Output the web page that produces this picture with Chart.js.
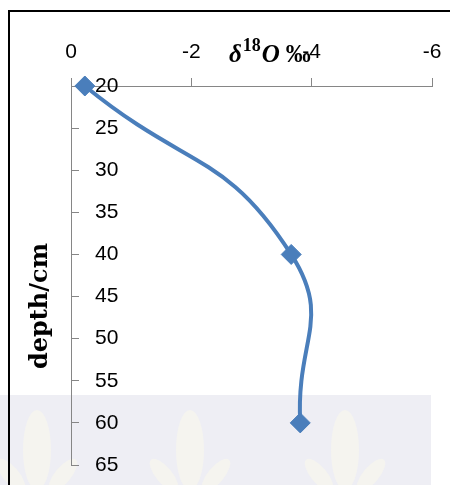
<!DOCTYPE html>
<html>
<head>
<meta charset="utf-8">
<script src="https://cdn.jsdelivr.net/npm/chart.js@4/dist/chart.umd.min.js"></script>
<style>
  html, body { margin: 0; padding: 0; background: #fff; }
  #wrap { width: 450px; height: 485px; }
</style>
</head>
<body>
<div id="wrap"><canvas id="c" width="450" height="485"></canvas></div>
<script>
// depth (cm) and measured delta 18O (per mil)
const depths = [20, 40, 60];
const delta18O = [-0.23, -3.66, -3.81];

// axis ranges / ticks
const xMin = -6, xMax = 0, xStep = 2;
const yMin = 20, yMax = 65, yStep = 5;

const blue = '#4A7EBB';
const axisGray = '#868686';

// faint watermark band at the bottom of the picture
const watermark = {
  id: 'watermark',
  beforeDraw(chart) {
    const ctx = chart.ctx;
    ctx.save();
    ctx.fillStyle = '#EEEEF4';
    ctx.fillRect(0, 395, 431, 90);
    ctx.fillStyle = '#F5F4EF';
    [37, 190, 345].forEach(cx => {
      ctx.beginPath();
      ctx.ellipse(cx, 450, 14, 40, 0, 0, Math.PI * 2);
      ctx.fill();
      ctx.beginPath();
      ctx.ellipse(cx - 26, 475, 8, 20, -0.7, 0, Math.PI * 2);
      ctx.fill();
      ctx.beginPath();
      ctx.ellipse(cx + 26, 475, 8, 20, 0.7, 0, Math.PI * 2);
      ctx.fill();
    });
    ctx.restore();
  }
};

// outer frame + axis titles
const decorations = {
  id: 'decorations',
  afterDraw(chart) {
    const ctx = chart.ctx;
    ctx.save();
    ctx.strokeStyle = '#000';
    ctx.lineWidth = 2;
    ctx.beginPath();
    ctx.moveTo(9, 485);
    ctx.lineTo(9, 11);
    ctx.lineTo(450, 11);
    ctx.stroke();

    // x title: delta 18O per mil
    ctx.fillStyle = '#000';
    ctx.textBaseline = 'alphabetic';
    ctx.textAlign = 'left';
    let x = 229;
    const base = 62;
    ctx.font = 'italic bold 25px "Liberation Serif"';
    ctx.fillText('δ', x, base);
    x += ctx.measureText('δ').width + 1;
    ctx.font = 'bold 18px "Liberation Serif"';
    ctx.fillText('18', x, base - 11);
    x += ctx.measureText('18').width + 1;
    ctx.font = 'italic bold 25px "Liberation Serif"';
    ctx.fillText('O', x, base);
    x += ctx.measureText('O').width + 6;
    ctx.font = 'bold 25px "Liberation Serif"';
    ctx.fillText('‰', x, base);

    // y title
    ctx.translate(41, 306);
    ctx.rotate(-Math.PI / 2);
    ctx.textAlign = 'center';
    ctx.textBaseline = 'middle';
    ctx.font = 'bold 24px "DejaVu Serif"';
    ctx.fillText('depth/cm', 0, 0);
    ctx.restore();
  }
};

const points = depths.map((d, i) => ({ x: delta18O[i], y: d }));

new Chart(document.getElementById('c').getContext('2d'), {
  type: 'line',
  data: {
    datasets: [{
      data: points,
      borderColor: blue,
      borderWidth: 4,
      tension: 0.5,
      clip: false,
      pointStyle: 'rectRot',
      pointRadius: 10,
      pointBackgroundColor: blue,
      pointBorderColor: blue,
      pointBorderWidth: 1,
      fill: false
    }]
  },
  options: {
    responsive: false,
    animation: false,
    layout: { padding: { left: 0, right: 18, top: 0, bottom: 20 } },
    plugins: {
      legend: { display: false },
      tooltip: { enabled: false }
    },
    scales: {
      x: {
        type: 'linear',
        position: 'top',
        min: xMin,
        max: xMax,
        reverse: true,
        afterFit(scale) {
          scale.height = 86;
          scale.paddingLeft = 0;
          scale.paddingRight = 0;
        },
        grid: { drawOnChartArea: false, tickLength: 8, color: axisGray },
        border: { color: axisGray, width: 1 },
        ticks: {
          stepSize: xStep,
          padding: 13,
          color: '#000',
          font: { family: '"Liberation Sans"', size: 21 }
        }
      },
      y: {
        type: 'linear',
        position: 'left',
        min: yMin,
        max: yMax,
        reverse: true,
        afterFit(scale) {
          scale.width = 71;
          scale.paddingTop = 0;
          scale.paddingBottom = 0;
        },
        grid: { drawOnChartArea: false, tickLength: -8, color: axisGray },
        border: { color: axisGray, width: 1 },
        ticks: {
          stepSize: yStep,
          mirror: true,
          padding: 24,
          color: '#000',
          font: { family: '"Liberation Sans"', size: 21 }
        }
      }
    }
  },
  plugins: [watermark, decorations]
});
</script>
</body>
</html>
